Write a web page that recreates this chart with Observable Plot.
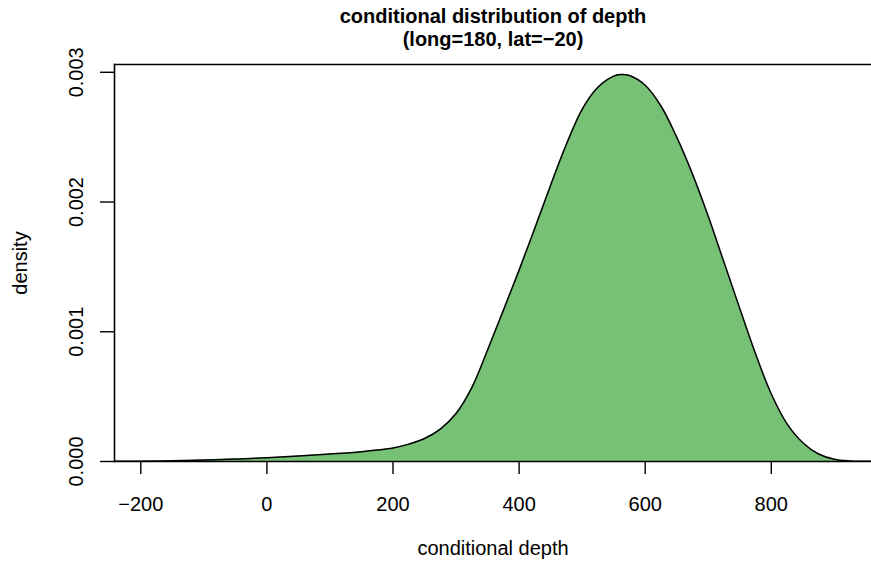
<!DOCTYPE html>
<html>
<head>
<meta charset="utf-8">
<script src="https://cdn.jsdelivr.net/npm/d3@7"></script>
<script src="https://cdn.jsdelivr.net/npm/@observablehq/plot@0.6"></script>
<style>
  html, body { margin: 0; padding: 0; background: #fff; }
  svg { display: block; }
</style>
</head>
<body>
<div id="chart"></div>
<script>
// Estimated conditional density of depth at long=180, lat=-20
const depth = [-240, -200, -150, -100, -50, 0, 50, 100, 150, 175, 200, 225, 250, 275, 300, 325, 350, 375,
  400, 425, 450, 475, 500, 525, 550, 561, 575, 600, 625, 650, 675, 700, 725, 750, 775,
  800, 825, 850, 875, 900, 925, 958];
const density = [0.000001, 0.000002, 0.000005, 0.000011, 0.000019, 0.000029, 0.000042, 0.000058,
  0.000076, 0.000088, 0.000104, 0.000134, 0.000177, 0.000250, 0.000370, 0.000570, 0.000860, 0.001165,
  0.001475, 0.001800, 0.002130, 0.002445, 0.002715, 0.002885, 0.002970, 0.002983, 0.002975,
  0.002900, 0.002740, 0.002500, 0.002215, 0.001890, 0.001535, 0.001180, 0.000830,
  0.000520, 0.000290, 0.000145, 0.000058, 0.000017, 0.000004, 0.000001];

const xTicks = [-200, 0, 200, 400, 600, 800];
const yTicks = [0, 0.001, 0.002, 0.003];
const titleLines = ["conditional distribution of depth", "(long=180, lat=\u221220)"];
const xLabel = "conditional depth";
const yLabel = "density";

const curve = depth.map((d, i) => ({depth: d, density: density[i]}));
const font = "Liberation Sans, Arial, Helvetica, sans-serif";

const chart = Plot.plot({
  width: 871,
  height: 568,
  marginLeft: 114,
  marginRight: 0,
  marginTop: 64,
  marginBottom: 107,
  style: {fontFamily: font, background: "#fff", color: "#000"},
  x: {domain: [-241.7, 958.9]},
  y: {domain: [0, 0.00306]},
  marks: [
    Plot.areaY(curve, {x: "depth", y: "density", fill: "#76c176", curve: "catmull-rom"}),
    Plot.line(curve, {x: "depth", y: "density", stroke: "#000", strokeWidth: 1.5, curve: "catmull-rom"}),
    Plot.frame({anchor: "top", stroke: "#000", strokeWidth: 1.6}),
    Plot.frame({anchor: "left", stroke: "#000", strokeWidth: 1.6}),
    Plot.frame({anchor: "bottom", stroke: "#000", strokeWidth: 1.6}),
    Plot.axisX({ticks: xTicks, tickSize: 13, tickPadding: 22, fontSize: 20, label: null,
      strokeWidth: 1.4, tickFormat: d => d < 0 ? "\u2212" + Math.abs(d) : String(d)}),
    Plot.axisY({ticks: yTicks, tickSize: 14, label: null, strokeWidth: 1.4, tickFormat: () => ""}),
    Plot.text(yTicks, {y: d => d, text: d => d.toFixed(3), frameAnchor: "left", dx: -32,
      rotate: -90, textAnchor: "middle", lineAnchor: "bottom", fontSize: 20}),
    Plot.text([yLabel], {text: d => d, frameAnchor: "left", dx: -88, rotate: -90,
      textAnchor: "middle", lineAnchor: "bottom", fontSize: 20}),
    Plot.text([xLabel], {text: d => d, frameAnchor: "bottom", dy: 93, lineAnchor: "bottom", fontSize: 20}),
    Plot.text([titleLines[0]], {text: d => d, frameAnchor: "top", dy: -41.5, lineAnchor: "bottom",
      fontSize: 20, fontWeight: "bold"}),
    Plot.text([titleLines[1]], {text: d => d, frameAnchor: "top", dy: -19, lineAnchor: "bottom",
      fontSize: 20, fontWeight: "bold"})
  ]
});
document.getElementById("chart").appendChild(chart);
</script>
</body>
</html>
